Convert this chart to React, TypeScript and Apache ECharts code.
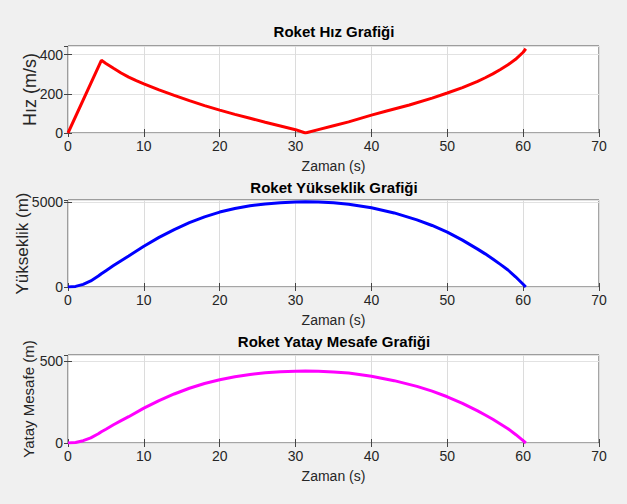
import React, { useEffect, useRef } from "react";
import * as echarts from "echarts";

// Velocity (m/s) vs time (s)
const hizT = [0, 4.4, 5, 6, 7, 8, 9, 10, 12, 14, 16, 18, 20, 22, 24, 26, 28, 30, 31.3, 33, 35, 37, 40, 42, 45, 48, 50, 52, 54, 55, 56, 57, 58, 59, 60, 60.35];
const hizV = [0, 371, 355, 330, 306, 285, 267, 251, 220, 192, 165, 140, 117, 95, 75, 55, 36, 17, 0, 17, 37, 57, 91, 112, 143, 178, 204, 232, 264, 282, 302, 324, 348, 376, 412, 430];

// Altitude (m) and horizontal distance (m) vs time (s)
const yolT = [0, 1, 2, 3, 4, 4.4, 5, 6, 7, 8, 10, 12, 14, 16, 18, 20, 22, 24, 26, 28, 30, 31.3, 33, 35, 37, 40, 43, 46, 48, 50, 52, 54, 55, 56, 57, 58, 59, 60, 60.35];
const yukseklik = [0, 35, 155, 355, 645, 780, 960, 1260, 1550, 1830, 2400, 2920, 3380, 3790, 4130, 4410, 4620, 4780, 4890, 4960, 5000, 5010, 5000, 4960, 4870, 4660, 4360, 3950, 3620, 3230, 2760, 2230, 1950, 1650, 1330, 1000, 600, 160, 0];
const yatay = [0, 3, 14, 31, 56, 68, 84, 111, 136, 160, 212, 258, 298, 333, 362, 385, 403, 417, 427, 433, 436, 437, 436, 432, 425, 406, 379, 344, 315, 281, 241, 195, 170, 144, 116, 87, 52, 14, 0];

const titles = ["Roket Hız Grafiği", "Roket Yükseklik Grafiği", "Roket Yatay Mesafe Grafiği"];
const yNames = ["Hız (m/s)", "Yükseklik (m)", "Yatay Mesafe (m)"];
const xName = "Zaman (s)";
const yMax = [444, 5120, 535];
const yInterval = [200, 5000, 500];

const FONT = "'Liberation Sans', Arial, Helvetica, sans-serif";
const TXT = "#262626";

export default function App() {
  const ref = useRef<HTMLDivElement>(null);
  useEffect(() => {
    document.body.style.margin = "0";
    const chart = echarts.init(ref.current!, null, { renderer: "svg" });
    const grids = [
      { left: 68, top: 46, width: 531, height: 87 },
      { left: 68, top: 200, width: 531, height: 87 },
      { left: 68, top: 355, width: 531, height: 88 },
    ];
    const titleTops = [19, 175, 329];
    const yNameGaps = [29, 37, 32];
    const yNameSizes = [18, 17, 15];
    const xAxes: any[] = [];
    const yAxes: any[] = [];
    grids.forEach((_, i) => {
      xAxes.push({
        type: "value", gridIndex: i, min: 0, max: 70, interval: 10, position: "bottom",
        name: xName, nameLocation: "middle", nameGap: 26, nameMoveOverlap: false,
        nameTextStyle: { fontFamily: FONT, fontSize: 14, color: TXT },
        axisLine: { show: false },
        axisTick: { show: true, inside: true, length: 4, lineStyle: { color: "#444" } },
        axisLabel: { fontFamily: FONT, fontSize: 14, color: TXT, margin: 6 },
        splitLine: { show: true, lineStyle: { color: "#dcdcdc", width: 1 } },
      });
      xAxes.push({
        type: "value", gridIndex: i, min: 0, max: 70, interval: 10, position: "top",
        axisLine: { show: false },
        axisTick: { show: true, inside: true, length: 4, lineStyle: { color: "#444" } },
        axisLabel: { show: false }, splitLine: { show: false },
      });
      yAxes.push({
        type: "value", gridIndex: i, min: 0, max: yMax[i], interval: yInterval[i], position: "left",
        name: yNames[i], nameLocation: "middle", nameGap: yNameGaps[i], nameRotate: 90, nameMoveOverlap: false,
        nameTextStyle: { fontFamily: FONT, fontSize: yNameSizes[i], color: TXT },
        axisLine: { show: false },
        axisTick: { show: true, inside: true, length: 4, lineStyle: { color: "#444" } },
        axisLabel: { fontFamily: FONT, fontSize: 14, color: TXT, margin: 5, showMaxLabel: false, formatter: (v: number) => String(v) },
        splitLine: { show: true, lineStyle: { color: "#e2e2e2", width: 1 } },
      });
      yAxes.push({
        type: "value", gridIndex: i, min: 0, max: yMax[i], interval: yInterval[i], position: "right",
        axisLine: { show: false },
        axisTick: { show: true, inside: true, length: 4, lineStyle: { color: "#444" } },
        axisLabel: { show: false }, splitLine: { show: false },
      });
    });
    const mk = (t: number[], v: number[]) => t.map((x, k) => [x, v[k]]);
    const seriesDefs = [
      { data: mk(hizT, hizV), color: "#ff0000" },
      { data: mk(yolT, yukseklik), color: "#0000ff" },
      { data: mk(yolT, yatay), color: "#ff00ff" },
    ];
    chart.setOption({
      animation: false,
      backgroundColor: "#f0f0f0",
      title: titles.map((t, i) => ({
        text: t, left: 329, top: titleTops[i], textAlign: "center",
        textStyle: { fontFamily: FONT, fontSize: 15, fontWeight: "bold", color: "#000" },
      })),
      grid: grids.map((g) => ({ ...g, show: true, backgroundColor: "#ffffff", borderColor: "#4a4a4a", borderWidth: 1 })),
      xAxis: xAxes,
      yAxis: yAxes,
      series: seriesDefs.map((s, i) => ({
        type: "line", xAxisIndex: i * 2, yAxisIndex: i * 2, data: s.data,
        showSymbol: false, symbol: "none", smooth: false,
        lineStyle: { color: s.color, width: 3 }, itemStyle: { color: s.color },
      })),
    });
    return () => chart.dispose();
  }, []);
  return <div ref={ref} style={{ width: 627, height: 504, position: "absolute", left: 0, top: 0 }} />;
}
